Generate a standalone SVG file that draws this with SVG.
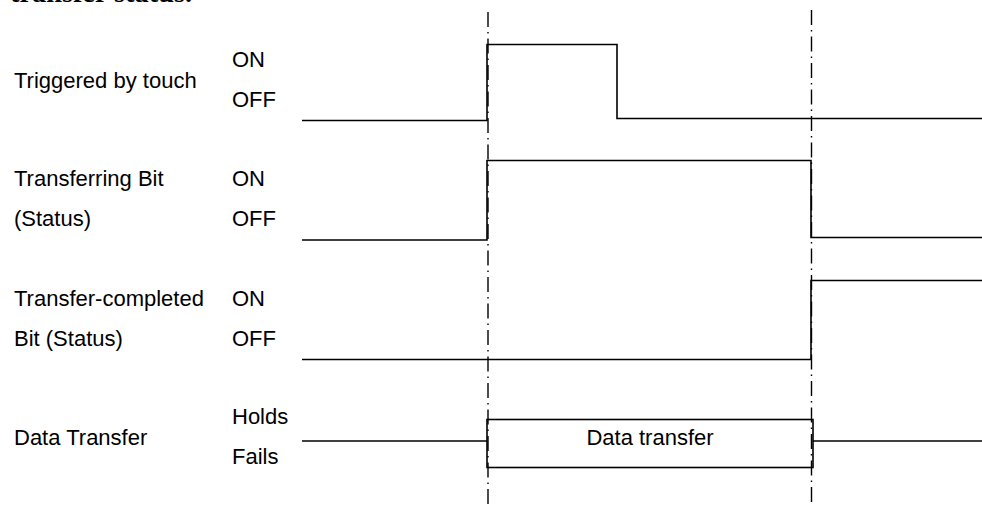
<svg xmlns="http://www.w3.org/2000/svg" width="982" height="505" viewBox="0 0 982 505">
<style>
text{font-family:"Liberation Sans",Arial,sans-serif;font-size:22px;fill:#000}
.cap{font-family:"Liberation Serif","Times New Roman",serif;font-size:28px;font-weight:bold}
.wave{fill:none;stroke:#000;stroke-width:1.6;stroke-linejoin:miter}
.guide{fill:none;stroke:#000;stroke-width:1.4;stroke-dasharray:15 5 1.5 5}
</style>
<rect width="982" height="505" fill="#fff"/>
<text class="cap" x="10" y="1.5" textLength="182" lengthAdjust="spacingAndGlyphs">transfer status.</text>
<g id="guides">
<line class="guide" x1="488" y1="12" x2="488" y2="505"/>
<line class="guide" x1="811.5" y1="10" x2="811.5" y2="505"/>
</g>
<g id="sig-touch">
<text x="14" y="88">Triggered by touch</text>
<text x="232" y="67">ON</text>
<text x="232" y="107">OFF</text>
<polyline class="wave" points="302,120.5 487,120.5 487,44.5 617,44.5 617,118.5 982,118.5"/>
</g>
<g id="sig-transferring">
<text x="14" y="186">Transferring Bit</text>
<text x="14" y="226">(Status)</text>
<text x="232" y="186">ON</text>
<text x="232" y="226">OFF</text>
<polyline class="wave" points="302,240 487,240 487,160.5 811,160.5 811,237.5 982,237.5"/>
</g>
<g id="sig-completed">
<text x="14" y="306">Transfer-completed</text>
<text x="14" y="346">Bit (Status)</text>
<text x="232" y="306">ON</text>
<text x="232" y="346">OFF</text>
<polyline class="wave" points="302,359.5 811,359.5 811,280.5 982,280.5"/>
</g>
<g id="sig-data">
<text x="14" y="445">Data Transfer</text>
<text x="232" y="424">Holds</text>
<text x="232" y="464">Fails</text>
<line class="wave" x1="302" y1="441" x2="487" y2="441"/>
<rect class="wave" x="487" y="419.5" width="326" height="48"/>
<line class="wave" x1="813" y1="441" x2="982" y2="441"/>
<text x="650" y="445" text-anchor="middle">Data transfer</text>
</g>
</svg>
